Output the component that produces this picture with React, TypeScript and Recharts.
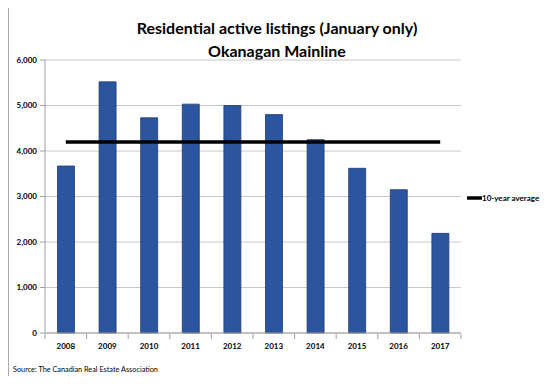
import React from 'react';
import { ComposedChart, Bar, Line, XAxis, YAxis, CartesianGrid, Legend } from 'recharts';

const years = ['2008', '2009', '2010', '2011', '2012', '2013', '2014', '2015', '2016', '2017'];
const listings = [3670, 5520, 4730, 5030, 5000, 4800, 4250, 3620, 3150, 2190];
const tenYearAverage = [4200, 4200, 4200, 4200, 4200, 4200, 4200, 4200, 4200, 4200];
const yTicks = [0, 1000, 2000, 3000, 4000, 5000, 6000];

const data = years.map((y, i) => ({ year: y, listings: listings[i], avg: tenYearAverage[i] }));

const FONT = 'Lato, "Open Sans", sans-serif';

const LegendContent = () => (
  <div style={{ display: 'flex', alignItems: 'center', paddingLeft: 6, fontFamily: FONT, fontSize: 8, fontWeight: 700, color: '#000', lineHeight: '12px' }}>
    <svg width={15} height={6} style={{ display: 'block' }}>
      <line x1={0} y1={3} x2={15} y2={3} stroke="#000" strokeWidth={3.5} />
    </svg>
    <span>10-year average</span>
  </div>
);

const XTick = (props: any) => {
  const { x, y, payload, index, visibleTicksCount } = props;
  const half = payload.offset || 0;
  const isLast = index === visibleTicksCount - 1;
  return (
    <g>
      <line x1={x - half} y1={y - 8} x2={x - half} y2={y - 3} stroke="#a0a0a0" />
      {isLast && <line x1={x + half} y1={y - 8} x2={x + half} y2={y - 3} stroke="#a0a0a0" />}
      <text x={x} y={y + 6.5} textAnchor="middle" fontFamily={FONT} fontSize={8} fontWeight={700} fill="#000">
        {payload.value}
      </text>
    </g>
  );
};

export default function App() {
  return (
    <div style={{ position: 'relative', margin: -8, width: 554, height: 384, background: '#efefef', overflow: 'hidden' }}>
      <div style={{ position: 'absolute', left: 0, top: 0, width: 1, height: 384, background: '#444' }} />
      <div
        style={{
          position: 'absolute',
          left: 8,
          top: 6,
          width: 538,
          height: 370,
          background: '#fff',
          border: '1px solid #a8a8a8',
          boxShadow: '1px 1px 0 #777',
        }}
      />
      <div
        style={{
          position: 'absolute',
          left: 0,
          top: 16,
          width: 554,
          textAlign: 'center',
          fontFamily: FONT,
          fontWeight: 700,
          fontSize: 16,
          lineHeight: '23px',
          color: '#000',
        }}
      >
        <div>Residential active listings (January only)</div>
        <div>Okanagan Mainline</div>
      </div>
      <div
        style={{
          position: 'absolute',
          left: 13,
          top: 365,
          fontFamily: FONT,
          fontSize: 7.3,
          color: '#000',
        }}
      >
        Source: The Canadian Real Estate Association
      </div>
      <div style={{ position: 'absolute', left: 0, top: 0 }}>
        <ComposedChart
          width={554}
          height={384}
          data={data}
          margin={{ top: 60, right: 13, bottom: 31, left: 8 }}
          barCategoryGap="30%"
        >
          <CartesianGrid vertical={false} stroke="#c8c8c8" strokeWidth={1} />
          <XAxis
            dataKey="year"
            height={20}
            axisLine={{ stroke: '#a0a0a0' }}
            tickLine={false}
            tick={<XTick />}
            tickMargin={3}
          />
          <YAxis
            width={37}
            domain={[0, 6000]}
            ticks={yTicks}
            tickFormatter={(v: number) => v.toLocaleString('en-US')}
            axisLine={{ stroke: '#a0a0a0' }}
            tickLine={{ stroke: '#a0a0a0' }}
            tickSize={5}
            tickMargin={3}
            tick={{ fontFamily: FONT, fontSize: 8, fontWeight: 700, fill: '#000' }}
          />
          <Legend
            layout="vertical"
            align="right"
            verticalAlign="middle"
            width={80}
            wrapperStyle={{ top: 192 }}
            content={() => <LegendContent />}
          />
          <Bar dataKey="listings" fill="#2c55a0" stroke="#1d3c74" strokeWidth={0.8} isAnimationActive={false} legendType="none" />
          <Line
            dataKey="avg"
            stroke="#000"
            strokeWidth={3.5}
            dot={false}
            activeDot={false}
            isAnimationActive={false}
            name="10-year average"
          />
        </ComposedChart>
      </div>
    </div>
  );
}
